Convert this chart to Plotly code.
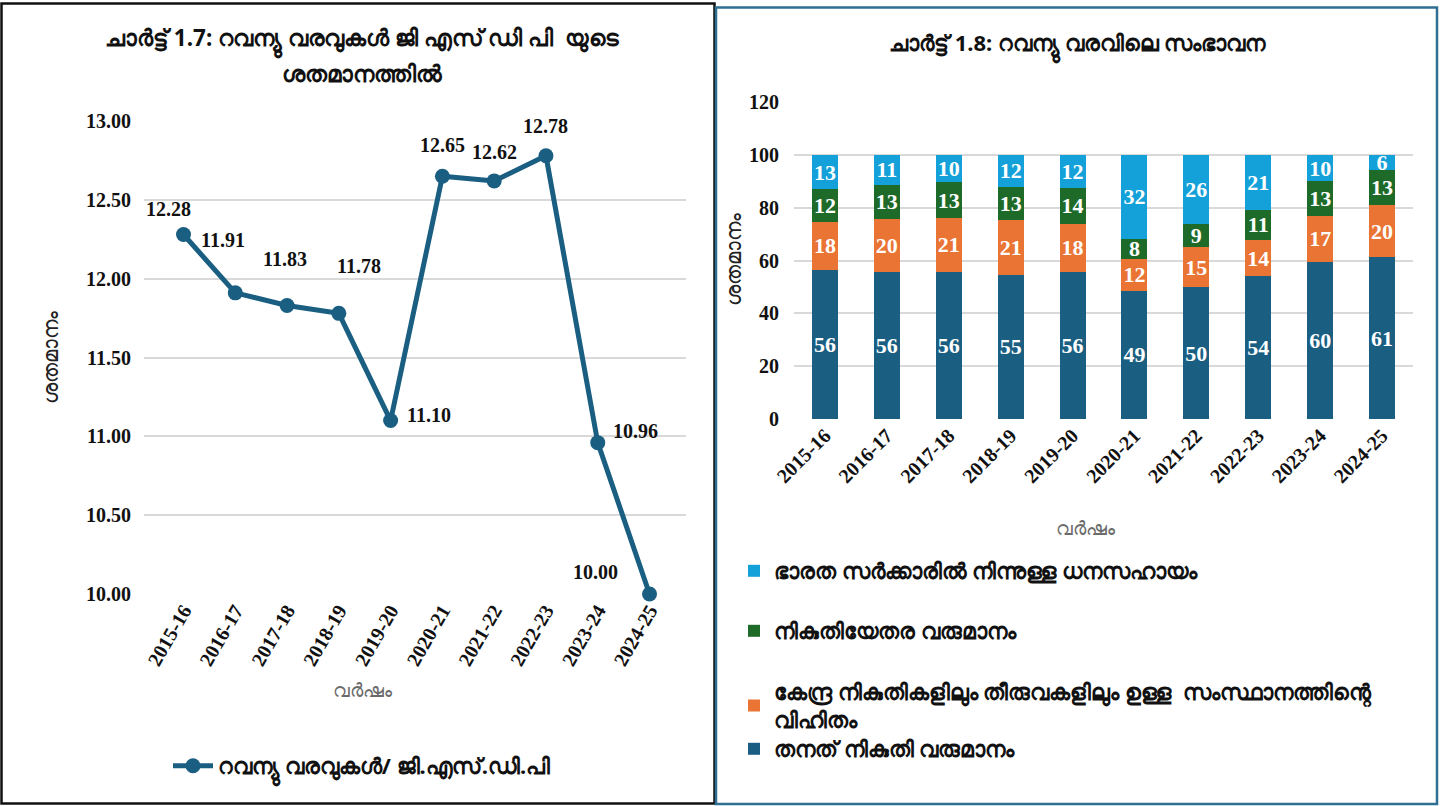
import plotly.graph_objects as go

# ---------------- data ----------------
years = ["2015-16", "2016-17", "2017-18", "2018-19", "2019-20",
         "2020-21", "2021-22", "2022-23", "2023-24", "2024-25"]

# Chart 1.7: revenue receipts as % of GSDP
rev_gsdp = [12.28, 11.91, 11.83, 11.78, 11.10, 12.65, 12.62, 12.78, 10.96, 10.00]

# Chart 1.8: composition of revenue receipts (%)
own_tax = [56.3, 55.6, 55.7, 54.6, 55.7, 48.6, 49.8, 54.0, 59.6, 61.2]
central_share = [18.4, 20.2, 20.5, 20.6, 18.3, 12.0, 15.4, 13.8, 17.4, 19.8]
non_tax = [12.2, 12.9, 13.4, 12.7, 13.6, 7.6, 8.8, 11.4, 13.0, 13.2]
grants = [13.1, 11.3, 10.4, 12.1, 12.4, 31.8, 26.0, 20.8, 10.0, 5.8]

y1_ticks = [10.0, 10.5, 11.0, 11.5, 12.0, 12.5, 13.0]
y2_ticks = [0, 20, 40, 60, 80, 100, 120]

name_line = "റവന്യു വരവുകൾ/ ജി.എസ്.ഡി.പി"
name_grants = "ഭാരത സർക്കാരിൽ നിന്നുള്ള ധനസഹായം"
name_nontax = "നികുതിയേതര വരുമാനം"
name_central = "കേന്ദ്ര നികുതികളിലും തീരുവകളിലും ഉള്ള  സംസ്ഥാനത്തിന്റെ<br>വിഹിതം"
name_own = "തനത് നികുതി വരുമാനം"

title1a = "ചാർട്ട് 1.7: റവന്യു വരവുകൾ ജി എസ് ഡി പി  യുടെ"
title1b = "ശതമാനത്തിൽ"
title2 = "ചാർട്ട് 1.8: റവന്യു വരവിലെ സംഭാവന"
ytitle = "ശതമാനം"
xtitle = "വർഷം"

# ---------------- styling ----------------
W, H = 1443, 806
SERIF = "Liberation Serif, Times New Roman, serif"
ML = "Noto Sans, Lato, sans-serif"
C_OWN = "#1a5e82"
C_CEN = "#e97434"
C_NON = "#1e6b29"
C_GRA = "#14a0d9"
GRID = "#d9d9d9"
TXT = "#111111"


def px(x):
    return x / W


def py(y):
    return 1 - y / H


fig = go.Figure()

fig.add_trace(go.Scatter(
    x=years, y=rev_gsdp, name=name_line, mode="lines+markers",
    line=dict(color=C_OWN, width=5),
    marker=dict(size=15, color=C_OWN),
    xaxis="x", yaxis="y", legend="legend", cliponaxis=False,
))

bar_specs = [
    (own_tax, name_own, C_OWN, "legend5"),
    (central_share, name_central, C_CEN, "legend4"),
    (non_tax, name_nontax, C_NON, "legend3"),
    (grants, name_grants, C_GRA, "legend2"),
]
for vals, nm, col, lg in bar_specs:
    fig.add_trace(go.Bar(
        x=years, y=vals, name=nm, marker=dict(color=col, line=dict(width=0)),
        width=0.42,
        texttemplate="%{y:.0f}", textposition="inside", insidetextanchor="middle",
        textfont=dict(family=SERIF, size=22, color="white", weight="bold"), textangle=0,
        xaxis="x2", yaxis="y2", legend=lg, cliponaxis=False,
    ))

axis_common = dict(showline=False, zeroline=False, ticks="", automargin=False)
tickf = dict(family=SERIF, size=20, color=TXT, weight="bold")
legf = dict(family=ML, size=22, color=TXT, weight="bold")

fig.update_layout(
    width=W, height=H, autosize=False,
    margin=dict(l=0, r=0, t=0, b=0, pad=0, autoexpand=False),
    paper_bgcolor="white", plot_bgcolor="white",
    barmode="stack", showlegend=True,
    uniformtext=dict(minsize=22, mode="show"),
    xaxis=dict(domain=[px(144), px(686)], type="category", tickangle=-60,
               tickfont=dict(family=SERIF, size=20, color=TXT, weight="bold"),
               showgrid=False, **axis_common),
    yaxis=dict(domain=[py(594), py(121)], range=[10, 13], tickvals=y1_ticks,
               tickformat=".2f", tickfont=tickf,
               showgrid=True, gridcolor=GRID, gridwidth=1.5, ticklabelstandoff=12,
               **axis_common),
    xaxis2=dict(domain=[px(794), px(1413)], type="category", tickangle=-45,
                tickfont=dict(family=SERIF, size=20, color=TXT, weight="bold"),
                showgrid=False, anchor="y2", **axis_common),
    yaxis2=dict(domain=[py(419), py(102)], range=[0, 120], tickvals=y2_ticks,
                tickfont=tickf,
                showgrid=True, gridcolor=GRID, gridwidth=1.5, anchor="x2",
                ticklabelstandoff=14, **axis_common),
    legend=dict(x=px(168), y=py(766), xanchor="left", yanchor="middle",
                font=legf, bgcolor="rgba(0,0,0,0)", itemwidth=40),
    legend2=dict(x=px(734), y=py(571), xanchor="left", yanchor="middle",
                 font=legf, bgcolor="rgba(0,0,0,0)"),
    legend3=dict(x=px(734), y=py(631), xanchor="left", yanchor="middle",
                 font=legf, bgcolor="rgba(0,0,0,0)"),
    legend4=dict(x=px(734), y=py(706), xanchor="left", yanchor="middle",
                 font=legf, bgcolor="rgba(0,0,0,0)"),
    legend5=dict(x=px(734), y=py(749), xanchor="left", yanchor="middle",
                 font=legf, bgcolor="rgba(0,0,0,0)"),
)

ann = []
# data labels for the line chart (offsets are styling only)
label_shift = [(-15, 26), (-12, 53), (-2, 46), (20, 47), (38, 6),
               (0, 31), (0, 29), (0, 30), (38, 12), (-54, 22)]
for yr, v, (dx, dy) in zip(years, rev_gsdp, label_shift):
    ann.append(dict(text=f"{v:.2f}", x=yr, y=v, xref="x", yref="y",
                    xshift=dx, yshift=dy, showarrow=False,
                    xanchor="center", yanchor="middle",
                    font=dict(family=SERIF, size=20, color=TXT, weight="bold")))


def pann(text, x, y, size, color=TXT, angle=0, weight="bold"):
    return dict(text=text, x=px(x), y=py(y), xref="paper", yref="paper",
                xanchor="center", yanchor="middle", textangle=angle,
                showarrow=False, font=dict(family=ML, size=size, color=color, weight=weight))


ann.append(pann(title1a, 362, 40, 22.5))
ann.append(pann(title1b, 362, 73, 22.5))
ann.append(pann(title2, 1077, 45, 22))
ann.append(pann(ytitle, 50, 357, 21, "#222222", -90, "normal"))
ann.append(pann(ytitle, 733, 260, 21, "#222222", -90, "normal"))
ann.append(pann(xtitle, 362, 690, 19, "#6b6b6b", 0, "normal"))
ann.append(pann(xtitle, 1085, 528, 19, "#6b6b6b", 0, "normal"))
fig.update_layout(annotations=ann)

fig.update_layout(shapes=[
    dict(type="rect", xref="paper", yref="paper", x0=px(1.5), x1=px(714.5), y0=py(803.5), y1=py(3.5),
         line=dict(color="#111111", width=2.5), fillcolor="rgba(0,0,0,0)", layer="above"),
    dict(type="rect", xref="paper", yref="paper", x0=px(716), x1=px(1437), y0=py(804), y1=py(7.5),
         line=dict(color="#2f6f93", width=2.5), fillcolor="rgba(0,0,0,0)", layer="above"),
])

fig.write_html(
    "out.html",
    config={"displayModeBar": False},
    post_script=("document.body.style.margin='0';"
                 "document.body.style.overflow='hidden';"
                 "document.documentElement.style.overflow='hidden';"),
)
